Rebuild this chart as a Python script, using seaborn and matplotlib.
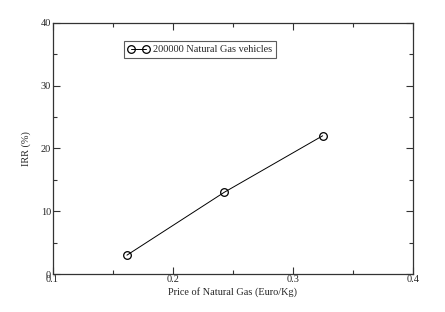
import pandas as pd
import matplotlib
matplotlib.use("Agg")
import matplotlib.pyplot as plt
import seaborn as sns

price = [0.162, 0.243, 0.325]
irr = [3.0, 13.0, 22.0]
series_name = "200000 Natural Gas vehicles"

df = pd.DataFrame({"price": price, "irr": irr, "series": series_name})

sns.set_style("ticks")
plt.rcParams["font.family"] = ["Liberation Serif", "DejaVu Serif"]

fig = plt.figure(figsize=(4.45, 3.12), dpi=100)
ax = fig.add_axes([52.5 / 445, 1 - 274 / 312, 360.2 / 445, 251.3 / 312])

sns.lineplot(data=df, x="price", y="irr", hue="series", palette=["black"],
             marker="o", markersize=5.5, markerfacecolor="none", markeredgecolor="black",
             markeredgewidth=0.9, linewidth=0.7, ax=ax)

ax.set_xlim(0.1, 0.4)
ax.set_ylim(0, 40)
ax.set_xticks([0.1, 0.2, 0.3, 0.4])
ax.set_xticklabels(["0.1", "0.2", "0.3", "0.4"])
ax.set_xticks([0.15, 0.25, 0.35], minor=True)
ax.set_yticks([0, 10, 20, 30, 40])
ax.set_yticks([5, 15, 25, 35], minor=True)
ax.tick_params(which="both", direction="in", top=True, right=True, labelsize=7.5,
               color="#333333", width=0.8, pad=1)
ax.tick_params(which="major", length=5.2)
ax.tick_params(which="minor", length=2.7)
for s in ax.spines.values():
    s.set_linewidth(0.9)
    s.set_color("#333333")

ax.set_xlabel("Price of Natural Gas (Euro/Kg)", fontsize=7.4, labelpad=2)
ax.set_ylabel("IRR (%)", fontsize=7.4, labelpad=7)

handles, labels = ax.get_legend_handles_labels()
leg = ax.legend(handles, labels, loc="upper left", bbox_to_anchor=(0.1985, 0.928),
                borderaxespad=0, fontsize=7.4, numpoints=2, frameon=True,
                fancybox=False, handlelength=2.0, borderpad=0.4, handletextpad=0.4)
leg.get_frame().set_edgecolor("#333333")
leg.get_frame().set_linewidth(0.8)

fig.savefig("out.png", dpi=100)
